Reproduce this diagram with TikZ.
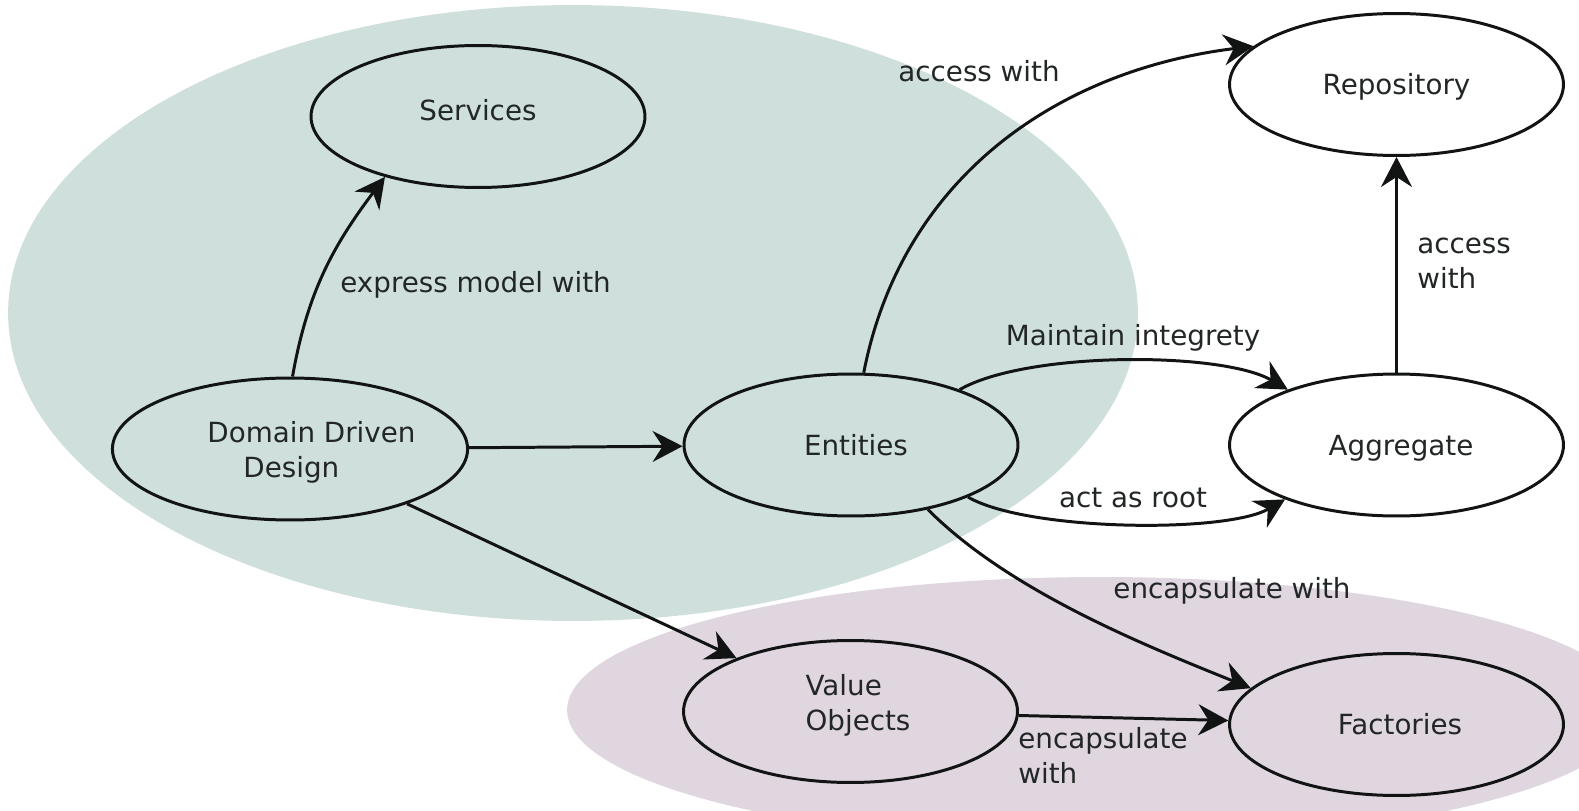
\documentclass[tikz,border=0pt]{standalone}
\usepackage{fontspec}
\setmainfont{DejaVu Sans}
\usetikzlibrary{shapes.geometric,arrows.meta}
\definecolor{bggreen}{HTML}{CFE0DC}
\definecolor{bgpurple}{HTML}{E0D6E0}
\definecolor{ink}{HTML}{121414}
\definecolor{txt}{HTML}{222626}
\newcommand{\ctext}[2]{\raisebox{#1}[0pt][0pt]{\begin{tabular}{@{}l@{}}#2\end{tabular}}}
\begin{document}
\begin{tikzpicture}[x=0.02cm,y=-0.02cm,
  concept/.style={ellipse, draw=ink, line width=1.7pt, minimum width=6.68cm,
    minimum height=2.84cm, inner sep=0pt, text=txt,
    font=\fontsize{15.8}{19.9}\selectfont},
  lbl/.style={text=txt, inner sep=0pt, font=\fontsize{15.8}{19.9}\selectfont},
  link/.style={draw=ink, line width=1.7pt,
    -{Stealth[length=0.6cm,width=0.62cm,inset=0.2cm]}}]
\useasboundingbox (0,0) rectangle (1579,811);
\begin{scope}
  \clip (0,0) rectangle (1579,811);
  \fill[bggreen] (573,313) ellipse [x radius=11.3cm, y radius=6.16cm];
  \fill[bgpurple] (1100,710) ellipse [x radius=10.66cm, y radius=2.66cm];
\end{scope}

\node[concept] (serv) at (478,116.5) {\ctext{-0.07cm}{Services}};
\node[concept] (ddd) at (290,449) {\ctext{-0.21cm}{\hspace*{0.86cm}Domain Driven\\\hspace*{1.58cm}Design}};
\node[concept] (ent) at (851,445) {\ctext{-0.2cm}{\hspace*{0.2cm}Entities}};
\node[concept] (repo) at (1396.5,84.5) {\ctext{-0.19cm}{Repository}};
\node[concept] (agg) at (1396.5,445) {\ctext{-0.2cm}{\hspace*{0.18cm}Aggregate}};
\node[concept] (vo) at (850.5,711.5) {\ctext{-0.02cm}{\hspace*{0.3cm}Value\\\hspace*{0.3cm}Objects}};
\node[concept] (fac) at (1396.5,724.5) {\ctext{-0.19cm}{\hspace*{0.14cm}Factories}};

\draw[link] (ddd.88) to[out=80,in=-127] (serv.213);
\draw[link] (ddd) -- (ent);
\draw[link] (ddd) -- (vo);
\draw[link] (ent.80) to[out=79,in=187] (repo.165);
\draw[link] (ent.27) to[out=30,in=150,looseness=0.6] (agg.153);
\draw[link] (ent.-24) to[out=-30,in=-150,looseness=0.55] (agg.-154);
\draw[link] (ent.-40) to[out=-45,in=158,looseness=0.8] (fac.166);
\draw[link] (agg) -- (repo);
\draw[link] (vo) -- (fac);

\node[lbl, anchor=west] (l1) at (340,285) {express model with};
\node[lbl] (l2) at (979,71) {access with};
\node[lbl] (l3) at (1133,338) {Maintain integrety};
\node[lbl] (l4) at (1133,498) {act as root};
\node[lbl] (l5) at (1232,591) {encapsulate with};
\node[lbl, anchor=west, align=left] (l6) at (1417,263) {access\\with};
\node[lbl, anchor=west, align=left] (l7) at (1018,755) {encapsulate\\with};
\end{tikzpicture}
\end{document}
